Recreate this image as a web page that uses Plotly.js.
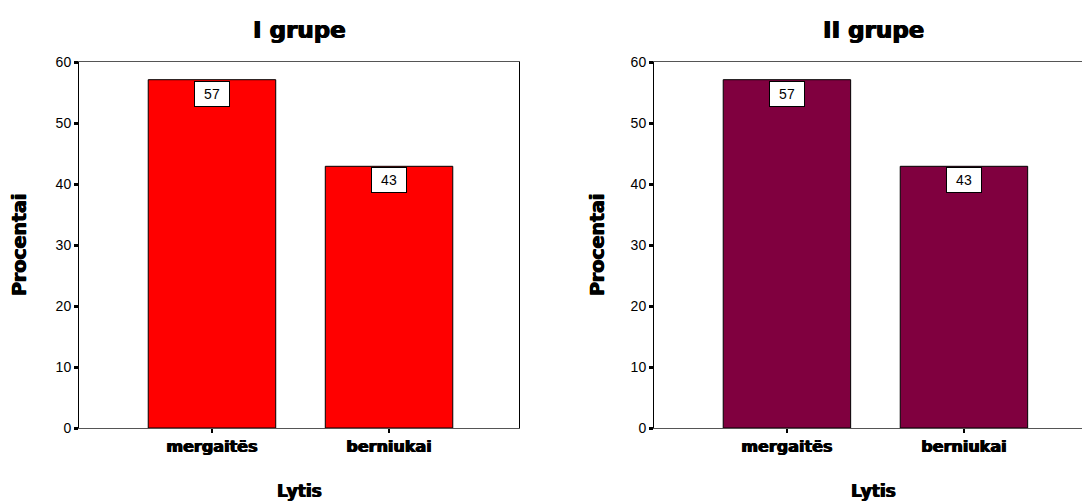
<!DOCTYPE html>
<html>
<head>
<meta charset="utf-8">
<script src="https://cdn.plot.ly/plotly-3.0.1.min.js"></script>
<style>html,body{margin:0;padding:0;background:#fff;}#chart{width:1082px;height:503px;}</style>
</head>
<body>
<div id="chart"></div>
<script>
const categories = ["mergaitës", "berniukai"];
const group1Values = [57.1, 42.9];
const group2Values = [57.1, 42.9];
const group1Labels = ["57", "43"];
const group2Labels = ["57", "43"];
const panelTitles = ["I grupe", "II grupe"];
const yTicks = [0, 10, 20, 30, 40, 50, 60];

const W = 1082, H = 503;
const px = v => v / W, py = v => 1 - v / H;

const bar = (vals, color, xa, ya) => ({
  type: "bar", x: categories, y: vals, xaxis: xa, yaxis: ya,
  width: 0.72, marker: {color: color, line: {color: "#000", width: 1}},
  hoverinfo: "none"
});

const data = [
  bar(group1Values, "#FF0000", "x", "y"),
  bar(group2Values, "#80003F", "x2", "y2")
];

const heavy = "0.6px 0 0 #000, -0.6px 0 0 #000";
const titleFont = {family: "DejaVu Sans", size: 23, color: "#000", weight: "bold", shadow: heavy};
const yTitleFont = {family: "DejaVu Sans", size: 19, color: "#000", weight: "bold", shadow: heavy};
const xTitleFont = {family: "DejaVu Sans", size: 17, color: "#000", weight: "bold", shadow: heavy};
const annotations = [];

function addLabels(vals, labels, xref, yref) {
  vals.forEach((v, i) => {
    annotations.push({
      x: categories[i], y: v, xref: xref, yref: yref,
      text: labels[i], showarrow: false, yanchor: "top", yshift: -1,
      bgcolor: "#fff", bordercolor: "#000", borderwidth: 1, borderpad: 4,
      width: 26, height: 16, font: {family: "Liberation Sans, Arial", size: 14, color: "#000"}
    });
  });
}
addLabels(group1Values, group1Labels, "x", "y");
addLabels(group2Values, group2Labels, "x2", "y2");

[[299, panelTitles[0], 19], [873, panelTitles[1], 597]].forEach(([cx, t, yx]) => {
  annotations.push({x: px(cx), y: py(30), xref: "paper", yref: "paper", text: t,
    showarrow: false, xanchor: "center", yanchor: "middle", font: titleFont});
  annotations.push({x: px(yx), y: py(245), xref: "paper", yref: "paper", text: "Procentai",
    textangle: -90, showarrow: false, xanchor: "center", yanchor: "middle", font: yTitleFont});
  annotations.push({x: px(cx), y: py(502), xref: "paper", yref: "paper", text: "Lytis",
    showarrow: false, xanchor: "center", yanchor: "bottom", borderpad: 0, font: xTitleFont});
});

const xCommon = {
  type: "category", showgrid: false, zeroline: false,
  showline: true, linecolor: "#555", linewidth: 1, mirror: true,
  ticks: "outside", ticklen: 4, tickwidth: 2, tickcolor: "#000",
  tickfont: {family: "DejaVu Sans", size: 16, color: "#000", weight: "bold", shadow: heavy},
  fixedrange: true
};
const yCommon = {
  range: [0, 60], tickvals: yTicks, showgrid: false, zeroline: false,
  showline: true, linecolor: "#000", linewidth: 1, mirror: true,
  ticks: "outside", ticklen: 4, tickwidth: 3, tickcolor: "#000",
  tickfont: {family: "Liberation Sans, Arial", size: 14, color: "#000"},
  domain: [py(428), py(62)], fixedrange: true
};

const layout = {
  width: W, height: H,
  margin: {l: 0, r: 0, t: 0, b: 0},
  paper_bgcolor: "#fff", plot_bgcolor: "#fff",
  showlegend: false, bargap: 0,
  xaxis: Object.assign({}, xCommon, {domain: [px(79), px(519)], range: [-0.751, 1.734], anchor: "y"}),
  xaxis2: Object.assign({}, xCommon, {domain: [px(654), 1], range: [-0.751, 1.667], anchor: "y2"}),
  yaxis: Object.assign({}, yCommon, {anchor: "x"}),
  yaxis2: Object.assign({}, yCommon, {anchor: "x2"}),
  annotations: annotations
};

Plotly.newPlot("chart", data, layout, {displayModeBar: false, staticPlot: true});
</script>
</body>
</html>
